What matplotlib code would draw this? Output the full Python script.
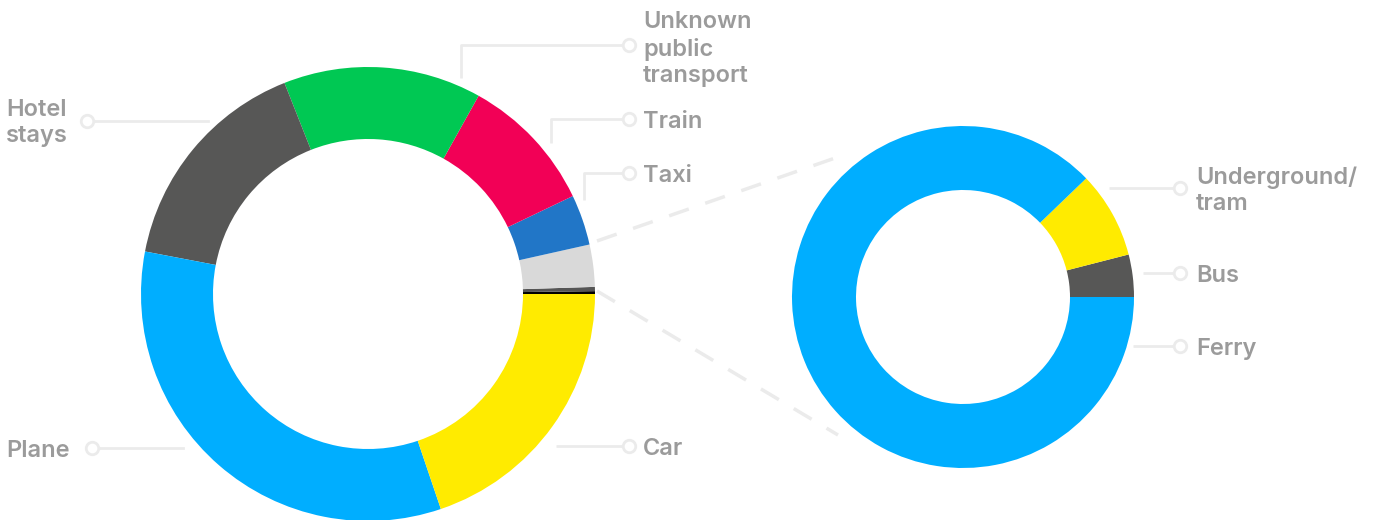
import matplotlib
matplotlib.use("Agg")
import matplotlib.pyplot as plt
from matplotlib.lines import Line2D

# ---- data ----
main_labels = ["Other (black)", "Other (dark)", "Other public transport", "Taxi", "Train",
               "Unknown\npublic\ntransport", "Hotel\nstays", "Plane", "Car"]
main_values = [0.2, 0.3, 3.0, 3.6, 9.8, 14.1, 16.0, 33.2, 19.8]
main_colors = ["#000000", "#555555", "#D9D9D9", "#2176C7", "#F20056",
               "#00C853", "#575756", "#00AEFF", "#FFEB00"]

sub_labels = ["Bus", "Underground/\ntram", "Ferry"]
sub_values = [4.0, 8.2, 87.8]
sub_colors = ["#575756", "#FFEB00", "#00AEFF"]

W, H = 1375, 520
fig = plt.figure(figsize=(W / 100, H / 100), dpi=100)
ax = fig.add_axes([0, 0, 1, 1])

def Y(y):
    return H - y

# left donut
ax.pie(main_values, colors=main_colors, startangle=0, counterclock=True,
       center=(368, Y(294)), radius=227,
       wedgeprops=dict(width=72, linewidth=0), frame=False)
# right donut
ax.pie(sub_values, colors=sub_colors, startangle=0, counterclock=True,
       center=(963, Y(297)), radius=171,
       wedgeprops=dict(width=64, linewidth=0), frame=False)

ax.set_xlim(0, W)
ax.set_ylim(0, H)
ax.set_aspect("equal")
ax.axis("off")

lc = "#EBEBEB"
tc = "#9B9B9B"
font = dict(family=["Inter", "DejaVu Sans"], fontsize=17, fontweight="semibold", color=tc)
LS = 1.26

def leader(points, circ):
    xs = [p[0] for p in points] + [circ[0] - 5]
    ys = [Y(p[1]) for p in points] + [Y(circ[1])]
    ax.add_line(Line2D(xs, ys, color=lc, lw=2, solid_capstyle="butt"))
    ax.plot(circ[0], Y(circ[1]), marker="o", ms=9, mfc="white", mec=lc, mew=2)

def leader_left(circ, x_end):
    ax.add_line(Line2D([circ[0] + 5, x_end], [Y(circ[1])] * 2, color=lc, lw=2))
    ax.plot(circ[0], Y(circ[1]), marker="o", ms=9, mfc="white", mec=lc, mew=2)

# dashed connectors
ax.add_line(Line2D([597, 838], [Y(241), Y(157)], color=lc, lw=2.5, ls=(0, (6, 5))))
ax.add_line(Line2D([597, 838], [Y(291), Y(435)], color=lc, lw=2.5, ls=(0, (6, 5))))

# left donut labels
leader([(461, 78), (461, 45)], (629, 45))
ax.text(643, Y(49), main_labels[5], va="center", ha="left", linespacing=LS, **font)
leader([(551, 143), (551, 119)], (629, 119))
ax.text(643, Y(122), main_labels[4], va="center", ha="left", **font)
leader([(584, 200), (584, 173)], (629, 173))
ax.text(643, Y(176), main_labels[3], va="center", ha="left", **font)
leader([(556, 446)], (629, 446))
ax.text(643, Y(449), main_labels[8], va="center", ha="left", **font)
leader_left((87, 121), 208)
ax.text(6, Y(123), main_labels[6], va="center", ha="left", linespacing=LS, **font)
leader_left((92, 448), 183)
ax.text(6, Y(451), main_labels[7], va="center", ha="left", **font)

# right donut labels
leader([(1109, 188)], (1180, 188))
ax.text(1196, Y(191), sub_labels[1], va="center", ha="left", linespacing=LS, **font)
leader([(1143, 273)], (1180, 273))
ax.text(1196, Y(276), sub_labels[0], va="center", ha="left", **font)
leader([(1133, 346)], (1180, 346))
ax.text(1196, Y(349), sub_labels[2], va="center", ha="left", **font)

fig.savefig("out.png", dpi=100, facecolor="white")
